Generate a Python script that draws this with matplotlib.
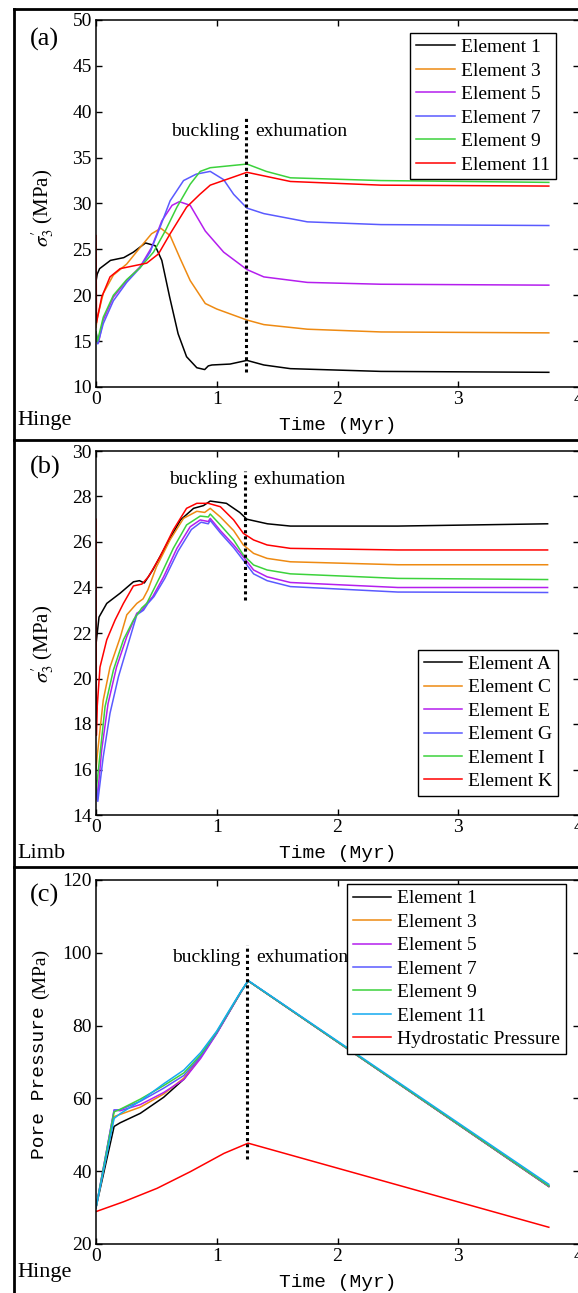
import matplotlib
matplotlib.use('Agg')
import matplotlib.pyplot as plt
from matplotlib.lines import Line2D

plt.rcParams['font.family'] = ['Liberation Serif', 'DejaVu Serif']
plt.rcParams['mathtext.fontset'] = 'stix'

# ---- panel (a): sigma'3 at hinge elements (MPa) vs time (Myr)
t_a1 = [0, 0.01, 0.03, 0.12, 0.23, 0.31, 0.41, 0.49, 0.545, 0.61, 0.68, 0.75, 0.835, 0.9, 0.93, 0.96, 1.11, 1.25, 1.39, 1.61, 2.36, 3.75]
s_a1 = [21.5, 22.3, 22.9, 23.8, 24.1, 24.7, 25.7, 25.4, 23.8, 19.8, 15.8, 13.3, 12.1, 11.9, 12.3, 12.4, 12.5, 12.9, 12.4, 12.0, 11.7, 11.6]
t_a3 = [0, 0.01, 0.06, 0.144, 0.254, 0.365, 0.46, 0.537, 0.614, 0.697, 0.78, 0.905, 1.0, 1.25, 1.39, 1.75, 2.36, 3.75]
s_a3 = [16.5, 17.5, 20.2, 22.2, 23.4, 25.2, 26.7, 27.3, 26.5, 24.0, 21.6, 19.1, 18.5, 17.3, 16.8, 16.3, 16.0, 15.9]
t_a5 = [0, 0.02, 0.06, 0.144, 0.254, 0.365, 0.46, 0.545, 0.63, 0.69, 0.78, 0.905, 1.057, 1.25, 1.39, 1.75, 2.36, 3.75]
s_a5 = [16.0, 14.8, 17.3, 19.8, 21.6, 23.1, 25.2, 28.1, 29.8, 30.2, 29.8, 27.0, 24.7, 22.8, 22.0, 21.4, 21.2, 21.1]
t_a7 = [0, 0.015, 0.06, 0.144, 0.254, 0.365, 0.448, 0.53, 0.614, 0.725, 0.83, 0.946, 1.057, 1.14, 1.25, 1.39, 1.75, 2.36, 3.75]
s_a7 = [15.8, 14.7, 16.9, 19.4, 21.4, 23.0, 24.7, 27.4, 30.3, 32.5, 33.2, 33.5, 32.6, 31.0, 29.5, 28.9, 28.0, 27.7, 27.6]
t_a9 = [0, 0.012, 0.06, 0.144, 0.254, 0.365, 0.476, 0.573, 0.67, 0.78, 0.863, 0.946, 1.25, 1.41, 1.61, 2.36, 3.75]
s_a9 = [16.0, 15.0, 17.6, 20.0, 21.7, 23.0, 24.7, 27.0, 29.6, 32.1, 33.5, 33.9, 34.3, 33.5, 32.8, 32.5, 32.3]
t_a11 = [0, 0.004, 0.047, 0.116, 0.2, 0.31, 0.42, 0.517, 0.614, 0.75, 0.86, 0.946, 1.25, 1.61, 2.36, 3.75]
s_a11 = [26.5, 17.0, 19.8, 22.0, 22.9, 23.2, 23.5, 24.5, 26.7, 29.6, 31.0, 32.0, 33.4, 32.4, 32.0, 31.9]

# ---- panel (b): sigma'3 at limb elements
t_bA = [0, 0.025, 0.089, 0.2, 0.31, 0.36, 0.40, 0.47, 0.59, 0.70, 0.808, 0.89, 0.946, 1.08, 1.19, 1.25, 1.42, 1.61, 2.5, 3.74]
s_bA = [21.5, 22.7, 23.3, 23.75, 24.25, 24.3, 24.2, 24.77, 25.94, 26.97, 27.48, 27.6, 27.8, 27.7, 27.3, 27.0, 26.8, 26.7, 26.7, 26.8]
t_bC = [0, 0.01, 0.06, 0.116, 0.2, 0.255, 0.338, 0.39, 0.43, 0.5, 0.614, 0.725, 0.835, 0.9, 0.946, 1.03, 1.14, 1.22, 1.305, 1.417, 1.61, 2.5, 3.74]
s_bC = [16.0, 16.6, 19.05, 20.5, 21.8, 22.8, 23.3, 23.5, 23.9, 24.9, 26.1, 27.04, 27.35, 27.3, 27.48, 27.1, 26.5, 25.87, 25.5, 25.28, 25.13, 25.0, 25.0]
t_bE = [0, 0.01, 0.047, 0.1, 0.17, 0.255, 0.338, 0.38, 0.42, 0.47, 0.56, 0.67, 0.78, 0.863, 0.93, 0.946, 1.03, 1.14, 1.22, 1.305, 1.417, 1.61, 2.5, 3.74]
s_bE = [15.5, 14.66, 16.86, 18.9, 20.5, 21.84, 22.87, 23.0, 23.3, 23.6, 24.47, 25.72, 26.67, 26.97, 26.9, 27.04, 26.5, 25.87, 25.35, 24.77, 24.47, 24.22, 24.0, 24.0]
t_bG = [0, 0.015, 0.06, 0.116, 0.186, 0.268, 0.338, 0.393, 0.43, 0.48, 0.57, 0.68, 0.79, 0.87, 0.93, 0.946, 1.03, 1.14, 1.22, 1.305, 1.417, 1.61, 2.5, 3.74]
s_bG = [15.5, 14.6, 16.56, 18.47, 20.08, 21.55, 22.8, 23.0, 23.3, 23.6, 24.4, 25.6, 26.55, 26.87, 26.8, 26.95, 26.4, 25.75, 25.2, 24.6, 24.3, 24.04, 23.8, 23.78]
t_bI = [0, 0.01, 0.075, 0.144, 0.227, 0.31, 0.379, 0.42, 0.53, 0.64, 0.75, 0.863, 0.93, 0.946, 1.03, 1.14, 1.22, 1.305, 1.417, 1.61, 2.5, 3.74]
s_bI = [15.0, 15.5, 18.76, 20.37, 21.7, 22.57, 23.1, 23.3, 24.47, 25.72, 26.75, 27.14, 27.1, 27.23, 26.75, 26.09, 25.43, 24.99, 24.77, 24.6, 24.4, 24.35]
t_bK = [0, 0.003, 0.01, 0.033, 0.089, 0.158, 0.227, 0.31, 0.38, 0.434, 0.53, 0.64, 0.75, 0.835, 0.93, 1.03, 1.14, 1.22, 1.305, 1.417, 1.61, 2.5, 3.74]
s_bK = [27.0, 17.5, 18.76, 20.5, 21.7, 22.57, 23.3, 24.07, 24.15, 24.47, 25.35, 26.53, 27.48, 27.7, 27.7, 27.55, 26.97, 26.38, 26.09, 25.87, 25.72, 25.65, 25.65]

# ---- panel (c): pore pressure at hinge elements (MPa)
t_c = [0, 0.15, 0.2, 0.367, 0.56, 0.728, 0.867, 1.0, 1.1, 1.2, 1.26, 3.75]
p_c1 = [30.0, 52.3, 53.3, 55.9, 60.3, 65.3, 71.5, 78.0, 83.6, 89.2, 92.3, 35.8]
p_c3 = [30.0, 55.0, 55.6, 57.6, 61.2, 65.6, 71.3, 78.0, 83.6, 89.2, 92.3, 35.8]
p_c5 = [30.0, 56.8, 56.6, 58.3, 61.6, 65.2, 71.0, 77.8, 83.5, 89.2, 92.3, 35.9]
p_c7 = [30.0, 56.8, 56.9, 59.2, 62.8, 66.3, 71.6, 78.0, 83.6, 89.2, 92.3, 35.9]
p_c9 = [30.0, 56.3, 57.0, 59.8, 63.5, 67.0, 72.0, 78.3, 83.8, 89.3, 92.3, 36.0]
p_c11 = [30.0, 54.5, 55.8, 59.3, 64.0, 67.8, 72.6, 78.5, 84.0, 89.4, 92.4, 36.4]
t_hyd = [0, 0.228, 0.506, 0.783, 1.06, 1.26, 3.75]
p_hyd = [28.9, 31.6, 35.3, 39.9, 44.9, 47.7, 24.6]

# buckling / exhumation boundary (time, ymin, ymax) per panel
phase_a = [1.24, 11.6, 39.5]
phase_b = [1.23, 23.45, 29.1]
phase_c = [1.25, 43.4, 102.1]

names_num = ['Element 1', 'Element 3', 'Element 5', 'Element 7', 'Element 9', 'Element 11']
names_let = ['Element A', 'Element C', 'Element E', 'Element G', 'Element I', 'Element K']
cols = ['#000000', '#EE8A12', '#B41EEE', '#5A5AFF', '#3CD23C', '#FF0000']
col_c = ['#000000', '#EE8A12', '#B41EEE', '#5A5AFF', '#3CD23C', '#14AAF0']

W, H = 578.0, 1293.0
fig = plt.figure(figsize=(W / 100, H / 100), dpi=100)

def box(y_top, y_bot):
    return [96 / W, 1 - y_bot / H, 483 / W, (y_bot - y_top) / H]

ax_a = fig.add_axes(box(20, 387))
ax_b = fig.add_axes(box(451, 815))
ax_c = fig.add_axes(box(880, 1244))

for t, s, c, n in zip([t_a1, t_a3, t_a5, t_a7, t_a9, t_a11],
                      [s_a1, s_a3, s_a5, s_a7, s_a9, s_a11], cols, names_num):
    ax_a.plot(t, s, color=c, lw=1.1, label=n)
for t, s, c, n in zip([t_bA, t_bC, t_bE, t_bG, t_bI, t_bK],
                      [s_bA, s_bC, s_bE, s_bG, s_bI, s_bK], cols, names_let):
    ax_b.plot(t, s, color=c, lw=1.1, label=n)
for p, c, n in zip([p_c1, p_c3, p_c5, p_c7, p_c9, p_c11], col_c, names_num):
    ax_c.plot(t_c, p, color=c, lw=1.1, label=n)
ax_c.plot(t_hyd, p_hyd, color='#FF0000', lw=1.1, label='Hydrostatic Pressure')

for ax, ph in [(ax_a, phase_a), (ax_b, phase_b), (ax_c, phase_c)]:
    ax.vlines(ph[0], ph[1], ph[2], colors='k', linestyles=(0, (1, 1)), lw=2.2)
    ytxt = ph[2] - (ph[2] - ph[1]) * 0.06
    ax.text(ph[0] - 0.055, ytxt, 'buckling', ha='right', va='center', fontsize=14)
    ax.text(ph[0] + 0.075, ytxt, 'exhumation', ha='left', va='center', fontsize=14)

def style(ax, ylim, yticks):
    ax.set_xlim(0, 4)
    ax.set_xticks([0, 1, 2, 3, 4])
    ax.set_ylim(*ylim)
    ax.set_yticks(yticks)
    ax.tick_params(direction='in', length=4, width=1, top=True, right=True,
                   labelsize=14, pad=3)
    for sp in ax.spines.values():
        sp.set_linewidth(1.1)
    ax.text(0.5, -0.105, 'Time (Myr)', transform=ax.transAxes, ha='center',
            va='center', fontsize=14, family='Liberation Mono')

style(ax_a, (10, 50), range(10, 51, 5))
style(ax_b, (14, 30), range(14, 31, 2))
style(ax_c, (20, 120), range(20, 121, 20))

ax_a.text(-0.11, 0.487, r"$\sigma_3^{\prime}$ (MPa)", transform=ax_a.transAxes, rotation=90,
          ha='center', va='center', fontsize=15)
ax_b.text(-0.11, 0.47, r"$\sigma_3^{\prime}$ (MPa)", transform=ax_b.transAxes, rotation=90,
          ha='center', va='center', fontsize=15)
ax_c.text(-0.116, 0.652, 'Pore Pressure', transform=ax_c.transAxes, rotation=90,
          ha='center', va='top', fontsize=14, family='Liberation Mono')
ax_c.text(-0.116, 0.672, '(MPa)', transform=ax_c.transAxes, rotation=90,
          ha='center', va='bottom', fontsize=14)

leg_kw = dict(frameon=True, fancybox=False, edgecolor='k', framealpha=1, fontsize=14,
              handlelength=2.0, handletextpad=0.3, labelspacing=0.3, borderpad=0.3,
              borderaxespad=0)
for ax, loc, anchor in [(ax_a, 'upper right', (0.952, 0.965)),
                        (ax_b, 'lower right', (0.957, 0.052)),
                        (ax_c, 'upper right', (0.973, 0.989))]:
    leg = ax.legend(loc=loc, bbox_to_anchor=anchor, **leg_kw)
    leg.get_frame().set_linewidth(1.0)

# panel labels
fig.text(30 / W, 1 - 39 / H, '(a)', fontsize=19, va='center')
fig.text(30 / W, 1 - 467 / H, '(b)', fontsize=19, va='center')
fig.text(30 / W, 1 - 895 / H, '(c)', fontsize=19, va='center')
fig.text(17 / W, 1 - 421 / H, 'Hinge', fontsize=16, va='center')
fig.text(17 / W, 1 - 853 / H, 'Limb', fontsize=16, va='center')
fig.text(17 / W, 1 - 1273 / H, 'Hinge', fontsize=16, va='center')

# sub-figure frames
for seg in [([13.5, 13.5], [9, H + 5]), ([13.5, W + 5], [9, 9]),
            ([13.5, W + 5], [440, 440]), ([13.5, W + 5], [867, 867])]:
    fig.add_artist(Line2D([x / W for x in seg[0]], [1 - y / H for y in seg[1]],
                          transform=fig.transFigure, color='k', lw=2))

fig.savefig('out.png', dpi=100)
